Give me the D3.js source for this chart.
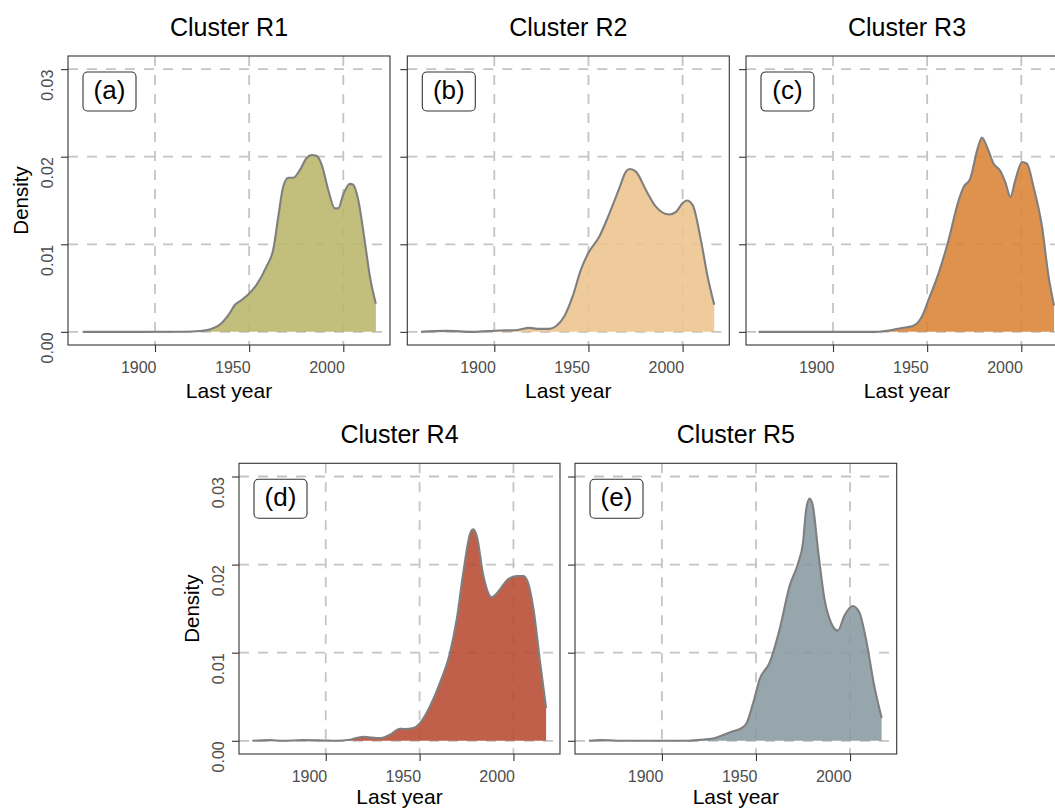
<!DOCTYPE html>
<html>
<head>
<meta charset="utf-8">
<script src="https://cdn.jsdelivr.net/npm/d3@7"></script>
<style>
  body { margin: 0; background: #fff; overflow: hidden; }
  svg { display: block; font-family: "Liberation Sans", Arial, sans-serif; }
</style>
</head>
<body>
<script>
// values
const clusterNames = ["Cluster R1", "Cluster R2", "Cluster R3", "Cluster R4", "Cluster R5"];
const panelTags = ["(a)", "(b)", "(c)", "(d)", "(e)"];
const fillColors = ["#bab569", "#edc38c", "#db8235", "#b74a31", "#889aa1"];
const xTicks = [1900, 1950, 2000];
const yTicks = [0, 0.01, 0.02, 0.03];

const r1Years   = [1861.6, 1890, 1915, 1924, 1929, 1934.5, 1939.8, 1942.5, 1945.1, 1949.5, 1954, 1959.3, 1962.8, 1965.5, 1968.1, 1970.8, 1973.4, 1977, 1980.5, 1983.2, 1985.8, 1988.5, 1992, 1995.5, 1997.3, 2000, 2003.5, 2005.3, 2007.9, 2011.5, 2014.1, 2017.3];
const r1Density = [0, 0, 0.00002, 0.0001, 0.00027, 0.00084, 0.00217, 0.0031, 0.0035, 0.00426, 0.0054, 0.0075, 0.0094, 0.0132, 0.0166, 0.0176, 0.0176, 0.0185, 0.01985, 0.0202, 0.0201, 0.0191, 0.0162, 0.0141, 0.0141, 0.0157, 0.0169, 0.0168, 0.0151, 0.0102, 0.00635, 0.0032];

const r2Years   = [1861.1, 1874.3, 1888.5, 1902.7, 1911.5, 1918.6, 1923, 1929.2, 1932.7, 1937.2, 1941.6, 1946, 1949.9, 1955.8, 1961.1, 1966.4, 1969.9, 1972, 1975.2, 1980.5, 1985.8, 1992.9, 1996.5, 2000, 2002.3, 2005.3, 2009.7, 2013.3, 2016.8];
const r2Density = [0, 0.00011, 0, 0.00015, 0.00019, 0.00045, 0.00034, 0.00034, 0.00064, 0.00178, 0.00405, 0.0071, 0.009, 0.0109, 0.0135, 0.0164, 0.0183, 0.0186, 0.0183, 0.0162, 0.0143, 0.0134, 0.0137, 0.0147, 0.015, 0.0145, 0.0105, 0.0063, 0.0031];

const r3Years   = [1860.5, 1922.5, 1929.6, 1936.6, 1941.9, 1944.6, 1947.3, 1950.8, 1956.1, 1961.4, 1966.7, 1969.4, 1972.9, 1976.5, 1979.1, 1981.8, 1985.3, 1988.8, 1991.5, 1994.2, 1996.8, 2000.4, 2003, 2006.5, 2011, 2014.5, 2017.4];
const r3Density = [0, 0, 0.00015, 0.00045, 0.00064, 0.00095, 0.00178, 0.0037, 0.0067, 0.0105, 0.015, 0.01655, 0.0175, 0.0207, 0.0222, 0.0211, 0.0192, 0.0184, 0.0171, 0.0154, 0.0173, 0.0194, 0.0192, 0.01655, 0.012, 0.0063, 0.003];

const r4Years   = [1860.9, 1870.1, 1877.2, 1887.9, 1898.6, 1905.7, 1912.8, 1919.9, 1923.5, 1928.8, 1934.2, 1939.5, 1942.2, 1946.6, 1950.2, 1955.5, 1960.9, 1966.2, 1969.8, 1973.3, 1976.9, 1978.6, 1980.4, 1984, 1988.4, 1992.9, 1996.4, 2001.8, 2005.3, 2008, 2010.7, 2014.2, 2017.4];
const r4Density = [0, 0.00008, 0, 0.00008, 0.00004, 0, 0.00011, 0.00046, 0.00038, 0.0003, 0.00068, 0.00137, 0.00133, 0.00144, 0.002, 0.0039, 0.0066, 0.01, 0.0138, 0.0191, 0.0235, 0.024, 0.0233, 0.0187, 0.0163, 0.0172, 0.0182, 0.0187, 0.0187, 0.0178, 0.0149, 0.0089, 0.0037];

const r5Years   = [1861.2, 1867.4, 1881.5, 1888.5, 1913.2, 1920.3, 1927.3, 1932.6, 1937, 1942.3, 1945, 1948.5, 1952, 1957.3, 1962.6, 1967.9, 1972.3, 1975, 1976.7, 1978.5, 1980.2, 1982.9, 1986.4, 1989.9, 1993.5, 1997, 2001.4, 2004.9, 2008.5, 2012.9, 2016.8];
const r5Density = [0, 0.00008, 0, 0, 0, 0.00011, 0.00027, 0.00065, 0.00103, 0.00144, 0.002, 0.0043, 0.007, 0.0089, 0.0127, 0.0176, 0.0201, 0.0225, 0.0263, 0.0275, 0.0267, 0.0218, 0.0161, 0.0134, 0.0125, 0.0142, 0.0153, 0.0146, 0.0115, 0.0062, 0.0026];

const seriesYears = [r1Years, r2Years, r3Years, r4Years, r5Years];
const seriesDensity = [r1Density, r2Density, r3Density, r4Density, r5Density];

// panel boxes in page pixels
const panels = [
  {left: 68,    top: 56,    w: 322, h: 289,   yLabels: true},
  {left: 407.3, top: 56,    w: 322, h: 289,   yLabels: false},
  {left: 746,   top: 56,    w: 322, h: 289,   yLabels: false},
  {left: 239,   top: 463.3, w: 321, h: 290.7, yLabels: true},
  {left: 575,   top: 463.3, w: 321.7, h: 290.7, yLabels: false}
];

const svg = d3.select("body").append("svg")
    .attr("width", 1055)
    .attr("height", 809);

panels.forEach((p, i) => {
  const x = d3.scaleLinear().domain([1853.8, 2024.8]).range([0, p.w]);
  const y = d3.scaleLinear().domain([-0.0015, 0.0315]).range([p.h, 0]);
  const g = svg.append("g").attr("transform", `translate(${p.left},${p.top})`);

  const pts = seriesYears[i].map((yr, k) => ({year: yr, d: seriesDensity[i][k]}));

  // grid
  g.selectAll(".gx").data(xTicks).enter().append("line")
      .attr("x1", d => x(d)).attr("x2", d => x(d))
      .attr("y1", 0).attr("y2", p.h)
      .attr("stroke", "#c4c4c4").attr("stroke-width", 1.8)
      .attr("stroke-dasharray", "10,9");
  g.selectAll(".gy").data(yTicks).enter().append("line")
      .attr("x1", 0).attr("x2", p.w)
      .attr("y1", d => y(d)).attr("y2", d => y(d))
      .attr("stroke", "#c4c4c4").attr("stroke-width", 1.8)
      .attr("stroke-dasharray", "10,9");

  // density fill + outline
  const area = d3.area().x(d => x(d.year)).y0(y(0)).y1(d => y(d.d)).curve(d3.curveMonotoneX);
  const line = d3.line().x(d => x(d.year)).y(d => y(d.d)).curve(d3.curveMonotoneX);
  g.append("path").datum(pts).attr("d", area)
      .attr("fill", fillColors[i]).attr("fill-opacity", 0.88);
  g.append("path").datum(pts).attr("d", line)
      .attr("fill", "none").attr("stroke", "#7f7f7f").attr("stroke-width", 2.1);

  // border
  g.append("rect").attr("width", p.w).attr("height", p.h)
      .attr("fill", "none").attr("stroke", "#333").attr("stroke-width", 1.1);

  // x axis
  const xa = g.append("g").attr("transform", `translate(0,${p.h})`)
      .call(d3.axisBottom(x).tickValues(xTicks).tickSize(7).tickPadding(10).tickFormat(d3.format("d")));
  xa.select(".domain").remove();
  xa.selectAll(".tick line").attr("stroke", "#333").attr("stroke-width", 1.1);
  xa.selectAll(".tick text").attr("text-anchor", "end").attr("x", 1)
      .attr("fill", "#4d4d4d").attr("font-size", 16).attr("font-family", "Liberation Sans, Arial, sans-serif");

  // y axis
  const ya = g.append("g")
      .call(d3.axisLeft(y).tickValues(yTicks).tickSize(7).tickFormat(d3.format(".2f")));
  ya.select(".domain").remove();
  ya.selectAll(".tick line").attr("stroke", "#333").attr("stroke-width", 1.1);
  ya.selectAll(".tick text").remove();
  if (p.yLabels) {
    ya.selectAll(".tick").append("text")
        .attr("transform", "translate(-15,0) rotate(-90)")
        .attr("text-anchor", "end")
        .attr("fill", "#4d4d4d")
        .attr("font-size", 16)
        .attr("font-family", "Liberation Sans, Arial, sans-serif")
        .text(d => d3.format(".2f")(d));
    g.append("text")
        .attr("transform", `translate(-40,${p.h / 2}) rotate(-90)`)
        .attr("text-anchor", "middle")
        .style("font-size", "20.5px")
        .text("Density");
  }

  // titles
  g.append("text").attr("x", p.w / 2).attr("y", -20)
      .attr("text-anchor", "middle").style("font-size", "25px")
      .text(clusterNames[i]);
  g.append("text").attr("x", p.w / 2).attr("y", Math.min(p.h + 53, 804 - p.top))
      .attr("text-anchor", "middle").style("font-size", "21px")
      .text("Last year");

  // panel tag
  g.append("rect").attr("x", 15).attr("y", 16).attr("width", 53).attr("height", 39)
      .attr("rx", 4.5).attr("fill", "#fff").attr("stroke", "#333").attr("stroke-width", 1.1);
  g.append("text").attr("x", 41.5).attr("y", 42.5)
      .attr("text-anchor", "middle").style("font-size", "26px")
      .text(panelTags[i]);
});
</script>
</body>
</html>
